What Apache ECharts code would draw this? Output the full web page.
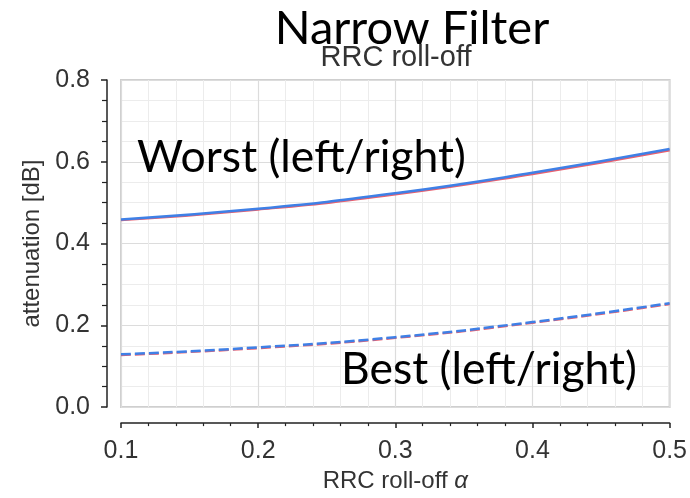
<!DOCTYPE html>
<html>
<head>
<meta charset="utf-8">
<script src="https://cdn.jsdelivr.net/npm/echarts@6/dist/echarts.min.js"></script>
<style>
html,body{margin:0;padding:0;background:#fff;}
#chart{width:690px;height:498px;}
</style>
</head>
<body>
<div id="chart"></div>
<script>
// ---- data ----
const alpha = [0.1, 0.2, 0.3, 0.4, 0.5];
const worstBlue = [0.459, 0.485, 0.523, 0.573, 0.631];
const worstRed  = [0.457, 0.483, 0.520, 0.570, 0.628];
const bestBlue  = [0.129, 0.146, 0.171, 0.208, 0.254];
const bestRed   = [0.127, 0.144, 0.169, 0.206, 0.252];
const xTickLabels = ['0.1', '0.2', '0.3', '0.4', '0.5'];
const yTickLabels = ['0.0', '0.2', '0.4', '0.6', '0.8'];
const titleText = 'Narrow Filter';
const subtitleText = 'RRC roll-off';
const worstLabel = 'Worst (left/right)';
const bestLabel = 'Best (left/right)';

function pairs(xs, ys) { return xs.map((x, i) => [x, ys[i]]); }

const chart = echarts.init(document.getElementById('chart'), null, {renderer: 'canvas'});
const tickFont = {fontFamily: '"Liberation Sans", Arial, sans-serif', fontSize: 25, color: '#333'};
const BLUE = '#3f80e6', RED = '#e8606e';

chart.setOption({
  animation: false,
  backgroundColor: '#fff',
  grid: {left: 121, right: 16, top: 80, bottom: 90, show: true, borderColor: '#cfcfcf', borderWidth: 2, backgroundColor: 'transparent'},
  xAxis: {
    type: 'value', min: 0.1, max: 0.5, interval: 0.1, offset: 16,
    name: 'RRC roll-off {a|α}', nameLocation: 'middle', nameGap: 45,
    nameTextStyle: {fontFamily: '"Liberation Sans", Arial, sans-serif', fontSize: 24, color: '#333',
      rich: {a: {fontFamily: '"Liberation Sans", Arial, sans-serif', fontSize: 24, color: '#333', fontStyle: 'italic'}}},
    axisLine: {show: true, onZero: false, lineStyle: {color: '#222', width: 1.5}},
    axisTick: {show: true, inside: false, length: 5, lineStyle: {color: '#222', width: 1.5}},
    minorTick: {show: true, splitNumber: 5, length: 3, lineStyle: {color: '#222', width: 1.2}},
    axisLabel: Object.assign({margin: 16, formatter: v => xTickLabels[Math.round((v - 0.1) * 10)] ?? ''}, tickFont),
    splitLine: {show: true, lineStyle: {color: '#dcdcdc', width: 1.2}},
    minorSplitLine: {show: true, lineStyle: {color: '#ececec', width: 1}}
  },
  yAxis: {
    type: 'value', min: 0, max: 0.8, interval: 0.2, offset: 14,
    name: 'attenuation [dB]', nameLocation: 'middle', nameGap: 62, nameRotate: 90,
    nameTextStyle: {fontFamily: '"Liberation Sans", Arial, sans-serif', fontSize: 24, color: '#333'},
    axisLine: {show: true, onZero: false, lineStyle: {color: '#222', width: 1.5}},
    axisTick: {show: true, inside: false, length: 6, lineStyle: {color: '#222', width: 1.5}},
    minorTick: {show: true, splitNumber: 4, length: 5, lineStyle: {color: '#222', width: 1.2}},
    axisLabel: Object.assign({margin: 17, formatter: v => yTickLabels[Math.round(v * 5)] ?? ''}, tickFont),
    splitLine: {show: true, lineStyle: {color: '#dcdcdc', width: 1.2}},
    minorSplitLine: {show: true, lineStyle: {color: '#ececec', width: 1}}
  },
  series: [
    {type: 'line', data: pairs(alpha, worstRed), smooth: 0.5, symbol: 'none', lineStyle: {color: RED, width: 2.2}, z: 2},
    {type: 'line', data: pairs(alpha, worstBlue), smooth: 0.5, symbol: 'none', lineStyle: {color: BLUE, width: 2.5}, z: 3},
    {type: 'line', data: pairs(alpha, bestRed), smooth: 0.5, symbol: 'none', lineStyle: {color: RED, width: 2.2, type: [10, 4]}, z: 2},
    {type: 'line', data: pairs(alpha, bestBlue), smooth: 0.5, symbol: 'none', lineStyle: {color: BLUE, width: 2.5, type: [10, 4]}, z: 3}
  ],
  graphic: [
    {type: 'text', z: 100, style: {text: titleText, x: 412, y: 29, align: 'center', verticalAlign: 'middle',
      font: '47px Lato, "Open Sans", sans-serif', fill: '#000'}},
    {type: 'text', z: 100, style: {text: subtitleText, x: 396, y: 58, align: 'center', verticalAlign: 'middle',
      font: '29px "Liberation Sans", Arial, sans-serif', fill: '#333'}},
    {type: 'text', z: 100, style: {text: worstLabel, x: 137, y: 158, align: 'left', verticalAlign: 'middle',
      font: '44.5px Lato, "Open Sans", sans-serif', fill: '#000'}},
    {type: 'text', z: 100, style: {text: bestLabel, x: 341, y: 370, align: 'left', verticalAlign: 'middle',
      font: '44.5px Lato, "Open Sans", sans-serif', fill: '#000'}}
  ]
});
</script>
</body>
</html>
